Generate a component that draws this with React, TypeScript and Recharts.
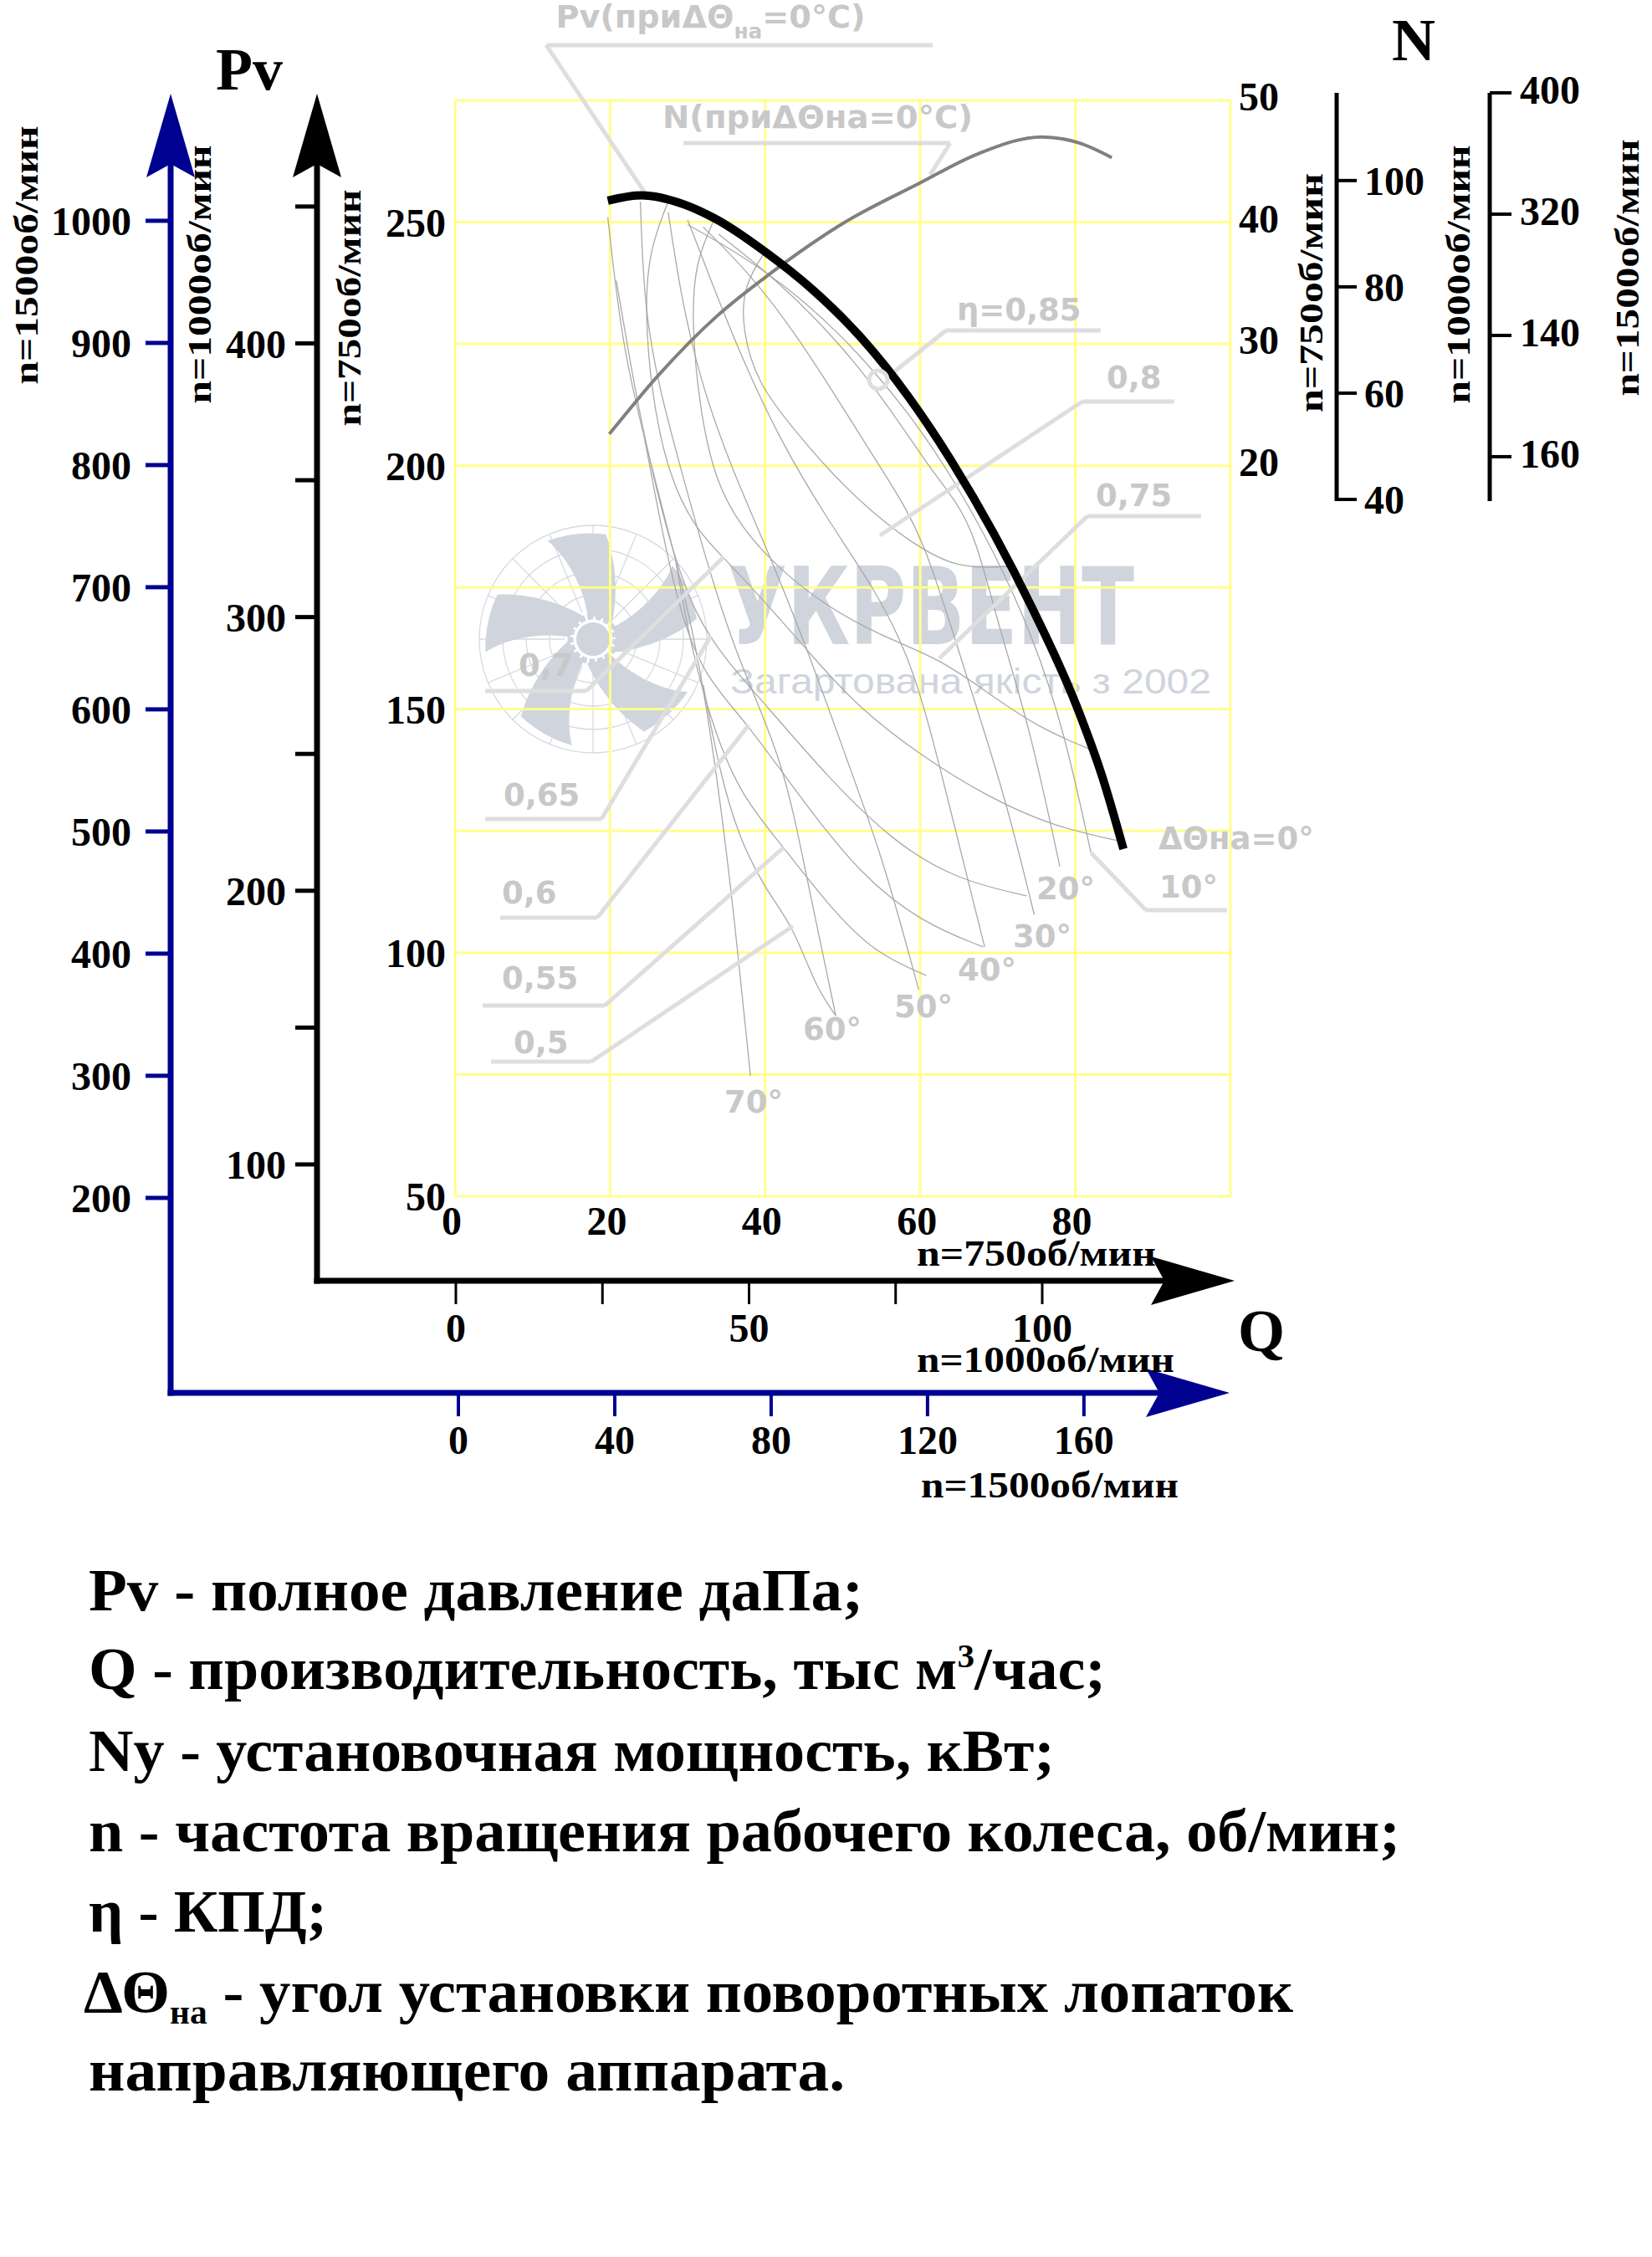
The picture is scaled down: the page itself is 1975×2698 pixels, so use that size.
import React from "react";
import {
  CartesianGrid,
  ComposedChart,
  Line,
  ReferenceDot,
  ReferenceLine,
  XAxis,
  YAxis,
} from "recharts";

const SERIF = '"Liberation Serif", "Times New Roman", serif';
const SANS = '"DejaVu Sans", "Noto Sans", sans-serif';
const NOTE = "#c8c8c8";
const LEADER = "#dedede";
const THIN = "#a9a9a9";
const GRID = "#ffff8c";
const NAVY = "#000091";
const MARK = "#cfd4dd";

// inner grid (Q 0..100, Pv 50..275, N on the right)
const innerQTicks = [0, 20, 40, 60, 80, 100];
const innerQShown = [0, 20, 40, 60, 80];
const innerPvTicks = [50, 75, 100, 125, 150, 175, 200, 225, 250, 275];
const innerPvShown = [50, 100, 150, 200, 250];
const innerNTicks = [20, 30, 40, 50];

// black axes (n=750 Pv, n=1000 Q)
const blackPvTicks = [100, 150, 200, 250, 300, 350, 400, 450];
const blackPvShown = [100, 200, 300, 400];
const blackQTicks = [0, 25, 50, 75, 100];
const blackQShown = [0, 50, 100];

// blue axes (n=1000 Pv, n=1500 Q)
const bluePvTicks = [200, 300, 400, 500, 600, 700, 800, 900, 1000];
const blueQTicks = [0, 40, 80, 120, 160];

// right power scales
const n750Ticks = [40, 60, 80, 100];
const n1500Pos = [0, 1, 2, 3];
const n1500Labels = ["400", "320", "140", "160"];

// Pv curve at ΔΘна = 0°
const pvQ = [19.7, 24, 29.6, 33.8, 40, 46.2, 52.3, 58.5, 64, 69.5, 74.3, 80.2, 83.5, 86.2];
const pvValues = [254.4, 255.5, 253.6, 250.5, 243.9, 236, 226.4, 214.1, 201, 186, 171.2, 150.5, 136, 121.3];

// N curve at ΔΘна = 0°
const nQ = [19.9, 26.2, 33.8, 40.7, 50.3, 59.9, 67.4, 75.7, 80.5, 84.7];
const nValues = [22.6, 27.4, 32.3, 35.8, 40.0, 43.2, 45.6, 47.0, 46.5, 45.3];

// guide vane angle curves 10° ... 70°
const angleQ = [
  [30, 40, 50, 58.5, 64, 69.5, 74.5, 78.5, 82],
  [34, 42, 50, 56, 61, 64.5, 67.1, 70.3, 74.1, 78],
  [32, 38, 44, 50, 55.5, 60.4, 65.4, 70.8, 74.7],
  [30, 33, 37, 42, 48, 54, 59.2, 63.8, 68.3],
  [27.5, 29, 31.5, 35.5, 40.5, 46, 50.5, 55.1, 59.8],
  [23.9, 24.4, 26.4, 29.2, 32.6, 36.5, 42.3, 45.2, 49.1],
  [19.7, 21.5, 24.4, 27.6, 30.8, 33.5, 36, 38.1],
];
const anglePv = [
  [249.5, 240.5, 227, 211, 198, 182.5, 165, 146, 120.6],
  [247.5, 237.5, 224.5, 212, 200, 193, 185.7, 165.9, 146.4, 117.7],
  [249, 239.5, 227, 212, 198, 185.7, 159.4, 133.1, 107.8],
  [250.5, 238, 222, 205, 189, 175, 159.4, 129.9, 101.2],
  [252, 236, 218, 200, 182, 160, 139.7, 119.9, 92.4],
  [254.2, 232, 215.4, 198.9, 179.3, 160, 139.7, 116.6, 87.1],
  [251, 225.2, 205.6, 185.9, 166, 140, 108, 74.7],
];

// efficiency curves 0,8 ... 0,5
const etaQ = [
  [40, 37.2, 37, 39, 43.4, 48.5, 53.7, 59, 64.1, 68.5, 71.9],
  [33.5, 31, 30.5, 31.5, 33.5, 37, 42, 48, 55, 62.5, 69, 75.5, 82.3],
  [27.5, 25, 24.5, 25.3, 27.5, 31, 34.6, 40, 46, 52.2, 60.5, 68.7, 77, 85.5],
  [20.8, 22.5, 24.5, 27.5, 31, 35, 40, 48.1, 56.3, 64.6, 73.7],
  [24.4, 26.5, 29, 32, 37.9, 44, 52.2, 60.4, 68.1],
  [28.5, 30.5, 33.5, 37, 42.4, 48, 54, 60.8],
  [32, 34, 36.5, 40, 43.6, 46.5, 49.1],
];
const etaPv = [
  [244, 237, 228, 217, 208, 198.5, 190.5, 184, 179.5, 179, 179.4],
  [250.8, 242, 230, 212, 197, 187, 178.5, 171, 165, 160.4, 153, 146, 141.5],
  [254.3, 244, 232, 215, 198, 187, 181.2, 172, 161, 150, 140, 132, 126, 123],
  [238, 222, 205, 185, 169, 160, 151, 136, 123, 115, 111.7],
  [206, 188, 170, 157, 146.7, 133, 116, 106, 101.2],
  [180, 162, 145, 132, 121.6, 110, 100, 95.3],
  [155, 138, 124, 113, 105.5, 93, 87.1],
];
const eta85Q = 54.58;
const eta85Pv = 217.63;

// leader polylines (far end, corner, tip)
const leaderQ = [
  [61.6, 11.76, 24.81],
  [29.45, 63.86, 61.27],
  [83.28, 63.32, 55.88],
  [92.77, 80.91, 54.8],
  [96.22, 81.55, 62.46],
  [3.88, 16.94, 34.63],
  [3.88, 18.88, 33.01],
  [5.83, 18.34, 37.86],
  [3.56, 19.31, 42.39],
  [4.64, 17.58, 43.58],
  [99.57, 89.1, 81.98],
];
const leaderPv = [
  [286.34, 286.34, 255.25],
  [266.24, 266.24, 259.71],
  [227.77, 227.77, 218.32],
  [213.17, 213.17, 185.69],
  [189.64, 189.64, 160.44],
  [153.74, 153.74, 181.22],
  [127.46, 127.46, 165.07],
  [107.19, 107.19, 146.7],
  [89.16, 89.16, 121.62],
  [77.65, 77.65, 105.48],
  [108.74, 108.74, 120.59],
];

// small grey notes on the field
const noteText = ["η=0,85", "0,8", "0,75", "0,7", "0,65", "0,6", "0,55", "0,5", "10°", "ΔΘна=0°", "20°", "30°", "40°", "50°", "60°", "70°"];
const noteQ = [64.72, 84.03, 82.63, 8.2, 6.26, 6.04, 6.04, 7.55, 90.83, 90.72, 74.97, 71.95, 64.83, 56.63, 44.88, 34.74];
const notePv = [229.83, 215.91, 191.7, 156.83, 130.21, 110.11, 92.59, 79.37, 111.31, 121.27, 110.97, 101.18, 94.31, 86.75, 82.12, 67.17];

const toRows = (qs: number[], vs: number[], key: string) =>
  qs.map((q, i) => ({ q, [key]: vs[i] }));

const pvRows = toRows(pvQ, pvValues, "pv");
const nRows = toRows(nQ, nValues, "n");

const tickFont = { fill: "#000", fontSize: 48, fontWeight: "bold", fontFamily: SERIF };
const only = (shown: number[]) => (v: number) => (shown.includes(v) ? String(v) : "");

const noteShape = (text: string) => (p: any) => (
  <text x={p.cx} y={p.cy} fill={NOTE} fontSize={37} fontWeight="bold" fontFamily={SANS}>
    {text}
  </text>
);

const bladeAngles = [-4, 68, 140, 212, 284];
const spokeAngles = [0, 22.5, 45, 67.5, 90, 112.5, 135, 157.5, 180, 202.5, 225, 247.5, 270, 292.5, 315, 337.5];
const ringRadii = [52, 80, 108, 136];

function Watermark() {
  return (
    <svg width={1975} height={1500} style={{ position: "absolute", left: 0, top: 0 }}>
      <g transform="translate(709,764)">
        {ringRadii.map((r) => (
          <circle key={r} r={r} fill="none" stroke="#d6dae1" strokeWidth={1.3} />
        ))}
        {spokeAngles.map((a) => (
          <line key={a} x1={0} y1={-34} x2={0} y2={-136} stroke="#d6dae1" strokeWidth={1.3} transform={`rotate(${a})`} />
        ))}
        {bladeAngles.map((a) => (
          <path
            key={a}
            d="M -4 -24 C -6 -62 -24 -100 -46 -121 Q -12 -131 24 -124 C 34 -92 34 -52 24 -18 Z"
            fill={MARK}
            transform={`rotate(${a})`}
          />
        ))}
        <circle r={27} fill="#fff" stroke={MARK} strokeWidth={7} strokeDasharray="7 3" />
        <circle r={20} fill={MARK} />
      </g>
      <text x={870} y={770} fill={MARK} fontSize={128} fontWeight="bold" fontFamily='"DejaVu Sans Condensed", "DejaVu Sans", sans-serif' textLength={486} lengthAdjust="spacingAndGlyphs">
        УКРВЕНТ
      </text>
      <text x={873} y={829} fill={MARK} fontSize={42} fontFamily='"Liberation Sans", Arial, sans-serif' textLength={575} lengthAdjust="spacingAndGlyphs">
        Загартована якість з 2002
      </text>
    </svg>
  );
}

function MainField() {
  return (
    <div style={{ position: "absolute", left: 0, top: 0 }}>
      <ComposedChart width={1975} height={1520} margin={{ top: 120, right: 404, bottom: 30, left: 444 }} accessibilityLayer={false}>
        <CartesianGrid stroke={GRID} strokeWidth={3} />
        <XAxis
          type="number"
          dataKey="q"
          domain={[0, 100]}
          ticks={innerQTicks}
          interval={0}
          tickFormatter={only(innerQShown)}
          axisLine={false}
          tickLine={false}
          tickSize={0}
          tickMargin={12}
          height={60}
          tick={{ ...tickFont, dx: -4 }}
        />
        <YAxis
          type="number"
          domain={[50, 275]}
          ticks={innerPvTicks}
          interval={0}
          tickFormatter={only(innerPvShown)}
          axisLine={false}
          tickLine={false}
          tickSize={0}
          tickMargin={11}
          width={100}
          tick={tickFont}
        />
        <YAxis
          yAxisId="n"
          orientation="right"
          type="number"
          domain={[-40, 50]}
          ticks={innerNTicks}
          interval={0}
          axisLine={false}
          tickLine={false}
          tickSize={0}
          tickMargin={10}
          width={100}
          tick={{ ...tickFont, dy: -5 }}
        />

        {etaQ.map((qs, i) => (
          <Line
            key={`eta${i}`}
            data={toRows(qs, etaPv[i], "pv")}
            dataKey="pv"
            type="basis"
            stroke={THIN}
            strokeWidth={1.3}
            dot={false}
            activeDot={false}
            isAnimationActive={false}
          />
        ))}
        {angleQ.map((qs, i) => (
          <Line
            key={`ang${i}`}
            data={toRows(qs, anglePv[i], "pv")}
            dataKey="pv"
            type="basis"
            stroke={THIN}
            strokeWidth={1.3}
            dot={false}
            activeDot={false}
            isAnimationActive={false}
          />
        ))}

        {leaderQ.map((qs, i) => (
          <ReferenceLine
            key={`la${i}`}
            segment={[{ x: qs[0], y: leaderPv[i][0] }, { x: qs[1], y: leaderPv[i][1] }]}
            stroke={LEADER}
            strokeWidth={5}
            ifOverflow="visible"
          />
        ))}
        {leaderQ.map((qs, i) => (
          <ReferenceLine
            key={`lb${i}`}
            segment={[{ x: qs[1], y: leaderPv[i][1] }, { x: qs[2], y: leaderPv[i][2] }]}
            stroke={LEADER}
            strokeWidth={5}
            ifOverflow="visible"
          />
        ))}
        <ReferenceDot x={eta85Q} y={eta85Pv} r={11} fill="none" stroke={LEADER} strokeWidth={5} ifOverflow="visible" />

        <Line
          yAxisId="n"
          data={nRows}
          dataKey="n"
          type="monotone"
          stroke="#808080"
          strokeWidth={4}
          dot={false}
          activeDot={false}
          isAnimationActive={false}
        />
        <Line
          data={pvRows}
          dataKey="pv"
          type="monotone"
          stroke="#000"
          strokeWidth={10}
          dot={false}
          activeDot={false}
          isAnimationActive={false}
        />

        {noteText.map((t, i) => (
          <ReferenceDot key={`nt${i}`} x={noteQ[i]} y={notePv[i]} r={0} ifOverflow="visible" shape={noteShape(t)} />
        ))}
        <ReferenceDot
          x={13.0}
          y={289.94}
          r={0}
          ifOverflow="visible"
          shape={(p: any) => (
            <text x={p.cx} y={p.cy} fill={NOTE} fontSize={37} fontWeight="bold" fontFamily={SANS} textLength={370} lengthAdjust="spacingAndGlyphs">
              Pv(приΔΘ
              <tspan fontSize={24} dy={13}>
                на
              </tspan>
              <tspan dy={-13}>=0°C)</tspan>
            </text>
          )}
        />
        <ReferenceDot
          x={26.75}
          y={269.33}
          r={0}
          ifOverflow="visible"
          shape={(p: any) => (
            <text x={p.cx} y={p.cy} fill={NOTE} fontSize={37} fontWeight="bold" fontFamily={SANS} textLength={371} lengthAdjust="spacingAndGlyphs">
              N(приΔΘна=0°C)
            </text>
          )}
        />
      </ComposedChart>
    </div>
  );
}

const blackRows = blackQTicks.map((q) => ({ q }));
const blueRows = blueQTicks.map((q) => ({ q }));

function BlackAxes() {
  return (
    <div style={{ position: "absolute", left: 0, top: 0 }}>
      <ComposedChart width={1975} height={1700} data={blackRows} margin={{ top: 188, right: 575, bottom: 69, left: 279 }} accessibilityLayer={false}>
        <XAxis
          type="number"
          dataKey="q"
          domain={[-23.68, 121.97]}
          allowDataOverflow
          ticks={blackQTicks}
          interval={0}
          tickFormatter={only(blackQShown)}
          axisLine={{ stroke: "#000", strokeWidth: 7, strokeLinecap: "square", markerEnd: "url(#arrowBlack)" }}
          tickLine={{ stroke: "#000", strokeWidth: 3 }}
          tickSize={28}
          tickMargin={11}
          height={100}
          tick={tickFont}
        />
        <YAxis
          type="number"
          domain={[57.5, 468]}
          allowDataOverflow
          ticks={blackPvTicks}
          interval={0}
          tickFormatter={only(blackPvShown)}
          axisLine={{ stroke: "#000", strokeWidth: 7, strokeLinecap: "square", markerStart: "url(#arrowBlack)" }}
          tickLine={{ stroke: "#000", strokeWidth: 5 }}
          tickSize={26}
          tickMargin={11}
          width={100}
          tick={tickFont}
        />
      </ComposedChart>
    </div>
  );
}

function BlueAxes() {
  return (
    <div style={{ position: "absolute", left: 0, top: 0 }}>
      <ComposedChart width={1975} height={1800} data={blueRows} margin={{ top: 188, right: 581, bottom: 35, left: 104 }} accessibilityLayer={false}>
        <XAxis
          type="number"
          dataKey="q"
          domain={[-73.6, 181]}
          allowDataOverflow
          ticks={blueQTicks}
          interval={0}
          axisLine={{ stroke: NAVY, strokeWidth: 7, strokeLinecap: "square", markerEnd: "url(#arrowBlue)" }}
          tickLine={{ stroke: NAVY, strokeWidth: 4 }}
          tickSize={28}
          tickMargin={11}
          height={100}
          tick={tickFont}
        />
        <YAxis
          type="number"
          domain={[40.4, 1052]}
          allowDataOverflow
          ticks={bluePvTicks}
          interval={0}
          axisLine={{ stroke: NAVY, strokeWidth: 7, strokeLinecap: "square", markerStart: "url(#arrowBlue)" }}
          tickLine={{ stroke: NAVY, strokeWidth: 5 }}
          tickSize={30}
          tickMargin={17}
          width={100}
          tick={tickFont}
        />
      </ComposedChart>
    </div>
  );
}

function PowerAxes() {
  return (
    <div style={{ position: "absolute", left: 0, top: 0 }}>
      <ComposedChart width={1975} height={640} margin={{ top: 111, right: 74, bottom: 41, left: 1400 }} accessibilityLayer={false}>
        <XAxis hide type="number" domain={[0, 1]} />
        <YAxis
          yAxisId="a750"
          orientation="right"
          type="number"
          domain={[39.69, 116.5]}
          allowDataOverflow
          ticks={n750Ticks}
          interval={0}
          axisLine={{ stroke: "#000", strokeWidth: 5 }}
          tickLine={{ stroke: "#000", strokeWidth: 4 }}
          tickSize={24}
          tickMargin={9}
          width={183}
          tick={tickFont}
        />
        <YAxis
          yAxisId="b1500"
          orientation="right"
          type="number"
          domain={[0, 3.366]}
          reversed
          allowDataOverflow
          ticks={n1500Pos}
          interval={0}
          tickFormatter={(i: number) => n1500Labels[i] ?? ""}
          axisLine={{ stroke: "#000", strokeWidth: 5 }}
          tickLine={{ stroke: "#000", strokeWidth: 4 }}
          tickSize={26}
          tickMargin={10}
          width={120}
          tick={{ ...tickFont, dy: -4 }}
        />
      </ComposedChart>
    </div>
  );
}

const rpmSide = [
  { text: "n=1500об/мин", x: 45, y: 305, len: 309 },
  { text: "n=1000об/мин", x: 252, y: 328, len: 309 },
  { text: "n=750об/мин", x: 431, y: 368, len: 283 },
  { text: "n=750об/мин", x: 1581, y: 350, len: 286 },
  { text: "n=1000об/мин", x: 1757, y: 328, len: 309 },
  { text: "n=1500об/мин", x: 1959, y: 320, len: 307 },
];
const rpmBottom = [
  { text: "n=750об/мин", x: 1096, y: 1513, len: 286 },
  { text: "n=1000об/мин", x: 1096, y: 1640, len: 308 },
  { text: "n=1500об/мин", x: 1101, y: 1790, len: 308 },
];
const legendY = [1925, 2019, 2117, 2213, 2309, 2405, 2499];
const legendLen = [926, 1216, 1155, 1568, 285, 1446, 904];

function Titles() {
  const base = { fill: "#000", fontWeight: "bold", fontFamily: SERIF } as const;
  const line = (i: number, x: number, children: React.ReactNode) => (
    <text key={i} x={x} y={legendY[i]} fontSize={72} textLength={legendLen[i]} lengthAdjust="spacingAndGlyphs" {...base}>
      {children}
    </text>
  );
  return (
    <svg width={1975} height={2698} style={{ position: "absolute", left: 0, top: 0 }}>
      <defs>
        <marker id="arrowBlack" viewBox="0 0 100 60" refX={24} refY={30} markerWidth={100} markerHeight={60} markerUnits="userSpaceOnUse" orient="auto-start-reverse">
          <path d="M100,30 L0,1 L16,30 L0,59 Z" fill="#000" />
        </marker>
        <marker id="arrowBlue" viewBox="0 0 100 60" refX={24} refY={30} markerWidth={100} markerHeight={60} markerUnits="userSpaceOnUse" orient="auto-start-reverse">
          <path d="M100,30 L0,1 L16,30 L0,59 Z" fill={NAVY} />
        </marker>
      </defs>
      <text x={258} y={107} fontSize={72} {...base}>Pv</text>
      <text x={1664} y={72} fontSize={72} {...base}>N</text>
      <text x={1480} y={1615} fontSize={72} {...base}>Q</text>
      {rpmSide.map((r, i) => (
        <text key={`s${i}`} transform={`translate(${r.x},${r.y}) rotate(-90)`} textAnchor="middle" fontSize={40} textLength={r.len} lengthAdjust="spacingAndGlyphs" {...base}>
          {r.text}
        </text>
      ))}
      {rpmBottom.map((r, i) => (
        <text key={`b${i}`} x={r.x} y={r.y} fontSize={44} textLength={r.len} lengthAdjust="spacingAndGlyphs" {...base}>
          {r.text}
        </text>
      ))}
      {line(0, 106, "Pv - полное давление даПа;")}
      {line(
        1,
        106,
        <>
          Q - производительность, тыс м<tspan fontSize={40} dy={-26}>3</tspan>
          <tspan dy={26}>/час;</tspan>
        </>
      )}
      {line(2, 106, "Ny - установочная мощность, кВт;")}
      {line(3, 106, "n - частота вращения рабочего колеса, об/мин;")}
      {line(4, 106, "η - КПД;")}
      {line(
        5,
        100,
        <>
          ΔΘ<tspan fontSize={40} dy={14}>на</tspan>
          <tspan dy={-14}> - угол установки поворотных лопаток</tspan>
        </>
      )}
      {line(6, 106, "направляющего аппарата.")}
    </svg>
  );
}

export default function App() {
  return (
    <div style={{ position: "absolute", left: 0, top: 0, width: 1975, height: 2698, background: "#fff" }}>
      <Watermark />
      <MainField />
      <BlueAxes />
      <BlackAxes />
      <PowerAxes />
      <Titles />
    </div>
  );
}
